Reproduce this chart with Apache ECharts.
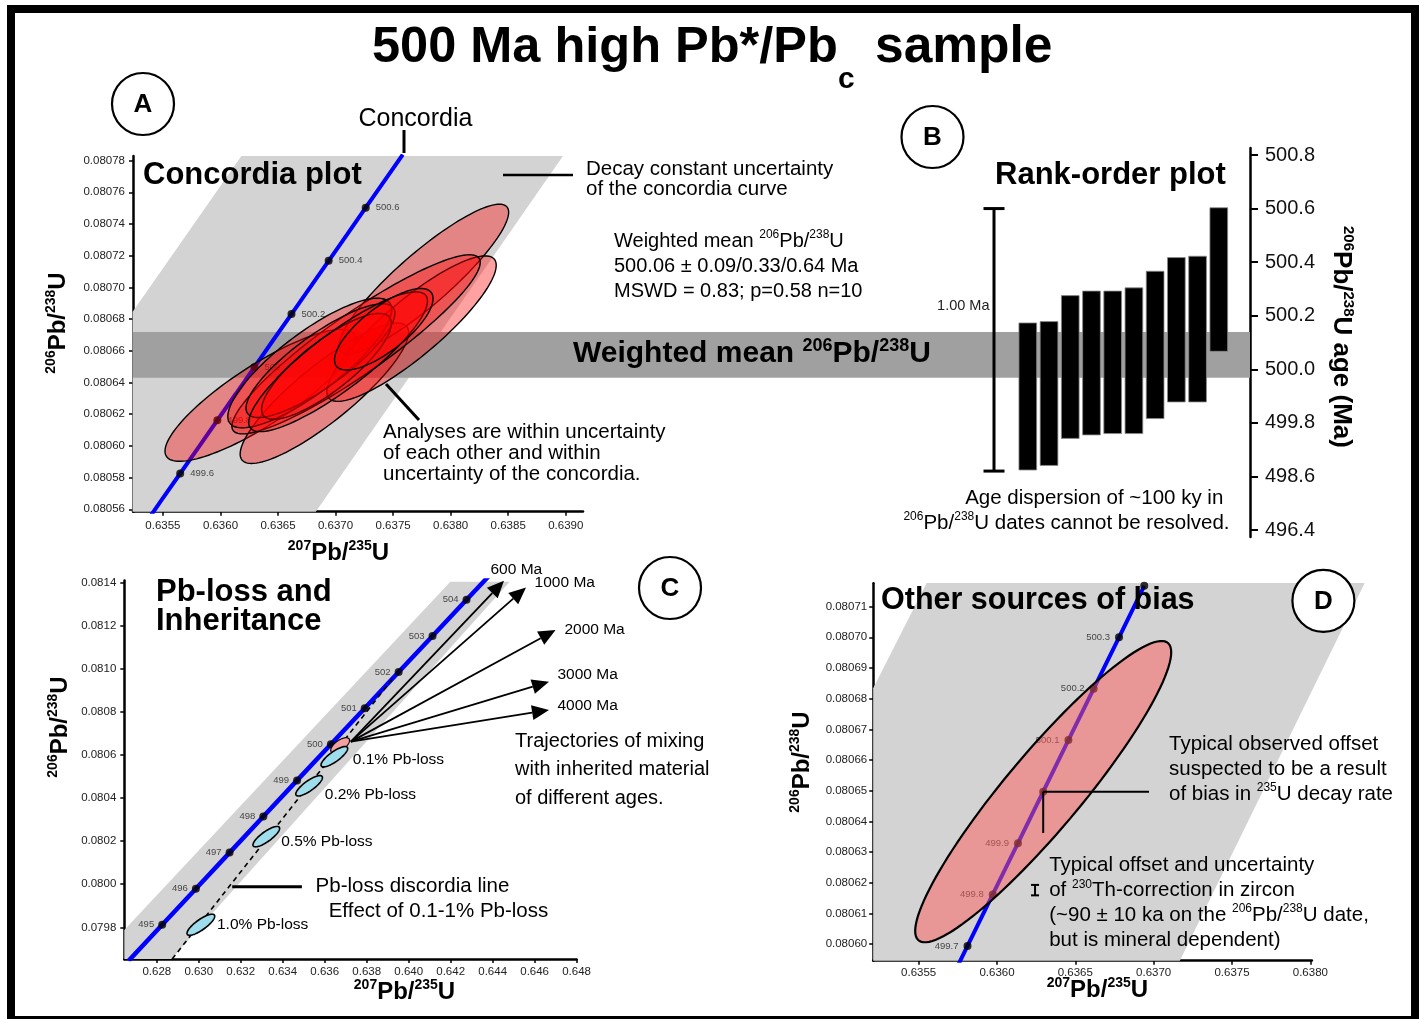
<!DOCTYPE html>
<html><head><meta charset="utf-8">
<script src="https://cdn.jsdelivr.net/npm/echarts@6/dist/echarts.min.js"></script>
<style>html,body{margin:0;padding:0;background:#fff}#c{width:1419px;height:1019px}</style>
</head><body><div id="c"></div>
<script>
const FF = "'Liberation Sans', Arial, Helvetica, sans-serif";

// ---------- Concordia curve (fine, panels A and D) ----------
const concAges = [499.4,499.5,499.6,499.7,499.8,499.9,500.0,500.1,500.2,500.3,500.4,500.5,500.6,500.7,500.8];
const concX = [0.635328,0.635489,0.635650,0.635812,0.635973,0.636134,0.636295,0.636456,0.636617,0.636779,0.636940,0.637101,0.637262,0.637423,0.637584];
const concY = [0.0805491,0.0805659,0.0805826,0.0805994,0.0806162,0.0806329,0.0806497,0.0806665,0.0806832,0.0807000,0.0807168,0.0807335,0.0807503,0.0807670,0.0807838];
// ---------- Concordia curve (coarse, panel C) ----------
const concAgesC = [494,495,496,497,498,499,500,501,502,503,504,505];
const concXC = [0.626655,0.628257,0.629862,0.631468,0.633075,0.634684,0.636295,0.637907,0.639522,0.641137,0.642755,0.644373];
const concYC = [0.0796444,0.0798118,0.0799793,0.0801468,0.0803144,0.0804821,0.0806497,0.0808173,0.0809850,0.0811527,0.0813204,0.0814881];
const dotAgesA = [499.6,499.8,500.0,500.2,500.4,500.6];
const dotAgesC = [495,496,497,498,499,500,501,502,503,504];
const dotAgesD = [499.7,499.8,499.9,500.0,500.1,500.2,500.3,500.4];
const labelAgesD = [499.7,499.8,499.9,500.1,500.2,500.3];

// ---------- Decay-constant uncertainty envelopes (polygon vertices) ----------
const bandAX = [0.636182,0.638976,0.636828,0.635237,0.635237];
const bandAY = [0.0807829,0.0807829,0.0805585,0.0805585,0.0806847];
const bandCX = [0.641984,0.644812,0.628695,0.626452,0.626452];
const bandCY = [0.081404,0.081404,0.079653,0.079653,0.0797875];
const bandDX = [0.635551,0.638347,0.637167,0.635210,0.635210];
const bandDY = [0.0807177,0.0807177,0.0805946,0.0805946,0.0806834];

// ---------- Panel A analyses (error ellipses) ----------
const ellAX   = [0.636347,0.636903,0.637767,0.637660,0.637178,0.636776,0.636869,0.636921,0.637022,0.637419];
const ellAY   = [0.0806319,0.0806332,0.0807053,0.0806740,0.0806641,0.0806523,0.0806538,0.0806502,0.0806531,0.0806736];
const ellASx  = [0.000829,0.000732,0.000737,0.000736,0.001079,0.000712,0.000647,0.000564,0.000777,0.000428];
const ellASy  = [0.0000416,0.0000443,0.0000472,0.0000459,0.0000565,0.0000409,0.0000359,0.0000334,0.0000441,0.0000257];
const ellARho = [0.846,0.865,0.892,0.870,0.914,0.824,0.834,0.814,0.870,0.753];

// ---------- Weighted mean 206Pb/238U ----------
const wmLow = 499.968, wmHigh = 500.139;      // age (Ma)

// ---------- Panel B rank-order ----------
const rankIds  = ['1','2','3','4','5','6','7','8','9','10'];
const rankLow  = [499.624,499.641,499.742,499.755,499.760,499.760,499.816,499.878,499.878,500.067];
const rankHigh = [500.173,500.178,500.275,500.292,500.292,500.304,500.366,500.417,500.422,500.603];
const scaleBarAges = [499.62, 500.6];
const bTickValues = [499.4,499.6,499.8,500.0,500.2,500.4,500.6,500.8];
const bTickLabels = ['496.4','498.6','499.8','500.0','500.2','500.4','500.6','500.8'];

// ---------- Panel C: Pb-loss & inheritance ----------
const pbLossNames = ['0.1%','0.2%','0.5%','1.0%'];
const pbLossX = [0.636460,0.635257,0.633217,0.630100];
const pbLossY = [0.080592,0.080457,0.080221,0.079812];
const pbLossSx = [0.000635,0.000635,0.000635,0.000660];
const pbLossSy = [0.0000473,0.0000473,0.0000473,0.0000490];
const pbLossRho = [0.81,0.81,0.81,0.81];
const sampleC = [0.636734, 0.080645, 0.000448, 0.0000353, 0.64];
const discordiaX = [0.628733, 0.639250];
const discordiaY = [0.079653, 0.080956];
const mixOrigin = [0.637247, 0.080662];
const mixAges = ['600 Ma','1000 Ma','2000 Ma','3000 Ma','4000 Ma'];
const mixTipX = [0.644541,0.645589,0.646999,0.646685,0.646685];
const mixTipY = [0.081409,0.081378,0.081180,0.080940,0.080809];

// ---------- Panel D ----------
const ellD = [0.636295, 0.0806497, 0.000817, 0.0000491, 0.9245];
const thCorr = [0.636243, 0.0806176, 0.0000017];

// ---------- Tick values ----------
const aXTicks = [0.6355,0.6360,0.6365,0.6370,0.6375,0.6380,0.6385,0.6390];
const aYTicks = [0.08056,0.08058,0.08060,0.08062,0.08064,0.08066,0.08068,0.08070,0.08072,0.08074,0.08076,0.08078];
const cXTicks = [0.628,0.630,0.632,0.634,0.636,0.638,0.640,0.642,0.644,0.646,0.648];
const cYTicks = [0.0798,0.0800,0.0802,0.0804,0.0806,0.0808,0.0810,0.0812,0.0814];
const dXTicks = [0.6355,0.6360,0.6365,0.6370,0.6375,0.6380];
const dYTicks = [0.08060,0.08061,0.08062,0.08063,0.08064,0.08065,0.08066,0.08067,0.08068,0.08069,0.08070,0.08071];

// ================= helpers =================
function idxOf(arr, v){ return arr.findIndex(a => Math.abs(a - v) < 1e-6); }

function valAxis(gi, min, max, ticks, dec, margin){
  return {type:'value', gridIndex:gi, min:min, max:max, splitLine:{show:false},
    axisLine:{show:true, onZero:false, lineStyle:{color:'#000', width:2.5}},
    axisTick:{show:true, customValues:ticks, length:4, lineStyle:{color:'#000', width:1.5}},
    axisLabel:{show:true, customValues:ticks, formatter:v => v.toFixed(dec), fontSize:11.5, color:'#222', fontFamily:FF, margin:margin}};
}
function hiddenAxis(gi, type, min, max, data){
  const o = {type:type, gridIndex:gi, show:false, splitLine:{show:false}};
  if (type === 'category') o.data = data; else { o.min = min; o.max = max; }
  return o;
}
function polygonSeries(ai, xs, ys, color, z){
  return {type:'custom', xAxisIndex:ai, yAxisIndex:ai, z:z, silent:true,
    data: xs.map((x,i)=>[x, ys[i]]),
    renderItem: function(params, api){
      if (params.dataIndex !== 0) return null;
      const pts = xs.map((x,i)=>api.coord([x, ys[i]]));
      return {type:'polygon', shape:{points:pts}, style:{fill:color}};
    }};
}
function ellipseSeries(ai, rows, fill, stroke, lw, z){
  return {type:'custom', xAxisIndex:ai, yAxisIndex:ai, z:z, silent:true,
    data: rows, encode:{x:0, y:1},
    renderItem: function(params, api){
      const cx=api.value(0), cy=api.value(1), sx=api.value(2), sy=api.value(3), r=api.value(4);
      const q = Math.sqrt(1 - r*r), pts = [];
      for (let k=0; k<120; k++){
        const t = k/120*2*Math.PI;
        pts.push(api.coord([cx + sx*Math.cos(t), cy + sy*(r*Math.cos(t) + q*Math.sin(t))]));
      }
      return {type:'polygon', shape:{points:pts}, style:{fill:fill, stroke:stroke, lineWidth:lw}};
    }};
}
function concLine(ai, xs, ys, w){
  return {type:'line', xAxisIndex:ai, yAxisIndex:ai, z:3, silent:true, symbol:'none', clip:true,
    data: xs.map((x,i)=>[x, ys[i]]), lineStyle:{color:'#0000ff', width:w}};
}
function concDots(ai, ages, tabA, tabX, tabY, labelAges, pos, dist){
  return {type:'scatter', xAxisIndex:ai, yAxisIndex:ai, z:4, silent:true, symbolSize:8,
    itemStyle:{color:'#000'},
    data: ages.map(a => { const i = idxOf(tabA, a); return [tabX[i], tabY[i], a]; }),
    label:{show:true, position:pos, distance:dist, fontSize:9.5, color:'#222', fontFamily:FF,
      formatter: p => (labelAges === null || idxOf(labelAges, p.value[2]) >= 0) ? String(p.value[2]) : ''}};
}

// ================= option =================
const chart = echarts.init(document.getElementById('c'), null, {width:1419, height:1019});

const ellARows = ellAX.map((x,i)=>[x, ellAY[i], ellASx[i], ellASy[i], ellARho[i]]);
const pbRows = pbLossX.map((x,i)=>[x, pbLossY[i], pbLossSx[i], pbLossSy[i], pbLossRho[i]]);

const option = {
  animation:false,
  backgroundColor:'#fff',
  grid:[
    {left:133, top:156, width:450, height:355.7},          // A
    {left:1017.2, top:148, width:212.2, height:389},       // B
    {left:133, top:148, width:1117, height:389},           // band helper
    {left:124.3, top:580.5, width:452.3, height:378.5},    // C
    {left:873.2, top:583.3, width:438.7, height:377.4}     // D
  ],
  xAxis:[
    valAxis(0, 0.63524, 0.63915, aXTicks, 4, 8),
    hiddenAxis(1, 'category', 0, 0, rankIds),
    hiddenAxis(2, 'value', 0, 1),
    valAxis(3, 0.626452, 0.648, cXTicks, 3, 7),
    valAxis(4, 0.63521, 0.63801, dXTicks, 4, 6)
  ],
  yAxis:[
    valAxis(0, 0.0805585, 0.0807829, aYTicks, 5, 8),
    {type:'value', gridIndex:1, position:'right', offset:20.6, min:499.3739, max:500.8261, splitLine:{show:false},
      axisLine:{show:true, lineStyle:{color:'#000', width:2.5}},
      axisTick:{show:true, customValues:bTickValues, length:8, lineStyle:{color:'#000', width:2}},
      axisLabel:{show:true, customValues:bTickValues, fontSize:20, color:'#111', fontFamily:FF, margin:15,
        formatter: v => { const i = idxOf(bTickValues, v); return i >= 0 ? bTickLabels[i] : ''; }}},
    hiddenAxis(2, 'value', 499.3739, 500.8261),
    valAxis(3, 0.079653, 0.08141, cYTicks, 4, 8),
    valAxis(4, 0.0805946, 0.0807176, dYTicks, 5, 6)
  ],
  series:[
    polygonSeries(0, bandAX, bandAY, '#d3d3d3', 1),
    polygonSeries(3, bandCX, bandCY, '#d3d3d3', 1),
    polygonSeries(4, bandDX, bandDY, '#d3d3d3', 1),
    {type:'custom', xAxisIndex:2, yAxisIndex:2, z:2, silent:true, data:[[0, wmLow, 1, wmHigh]],
      renderItem: function(params, api){
        const p0 = api.coord([api.value(0), api.value(3)]), p1 = api.coord([api.value(2), api.value(1)]);
        return {type:'rect', shape:{x:p0[0], y:p0[1], width:p1[0]-p0[0], height:p1[1]-p0[1]}, style:{fill:'#a0a0a0'}};
      }},
    concLine(0, concX, concY, 4),
    concDots(0, dotAgesA, concAges, concX, concY, null, 'right', 6),
    concLine(3, concXC, concYC, 4.5),
    concDots(3, dotAgesC, concAgesC, concXC, concYC, null, 'left', 4),
    concLine(4, concX.slice(2, 11), concY.slice(2, 11), 4),
    concDots(4, dotAgesD, concAges, concX, concY, labelAgesD, 'left', 5),
    ellipseSeries(0, ellARows, 'rgba(255,0,0,0.37)', '#000', 1.4, 6),
    {type:'custom', xAxisIndex:1, yAxisIndex:1, z:3, silent:true,
      data: rankIds.map((c,i)=>[i, rankLow[i], rankHigh[i]]),
      renderItem: function(params, api){
        const lo = api.coord([api.value(0), api.value(1)]), hi = api.coord([api.value(0), api.value(2)]);
        const w = api.size([1,0])[0]*0.835;
        return {type:'rect', shape:{x:lo[0]-w/2, y:hi[1], width:w, height:lo[1]-hi[1]}, style:{fill:'#000', stroke:'#8a8a8a', lineWidth:0.8}};
      }},
    {type:'line', xAxisIndex:3, yAxisIndex:3, z:4, silent:true, symbol:'none',
      data: discordiaX.map((x,i)=>[x, discordiaY[i]]), lineStyle:{color:'#000', width:1.6, type:[5,4]}},
    ellipseSeries(3, [sampleC], '#f4a0a0', '#000', 1.2, 6),
    ellipseSeries(3, pbRows, '#9fdcec', '#000', 1.6, 6),
    {type:'custom', xAxisIndex:3, yAxisIndex:3, z:7, silent:true,
      data: mixTipX.map((x,i)=>[mixOrigin[0], mixOrigin[1], x, mixTipY[i]]),
      renderItem: function(params, api){
        const p0 = api.coord([api.value(0), api.value(1)]), p1 = api.coord([api.value(2), api.value(3)]);
        const dx = p1[0]-p0[0], dy = p1[1]-p0[1], L = Math.hypot(dx, dy), ux = dx/L, uy = dy/L;
        const hl = 17, hw = 7.5, bx = p1[0]-ux*hl, by = p1[1]-uy*hl;
        return {type:'group', children:[
          {type:'line', shape:{x1:p0[0], y1:p0[1], x2:bx, y2:by}, style:{stroke:'#000', lineWidth:1.8}},
          {type:'polygon', shape:{points:[p1, [bx-uy*hw, by+ux*hw], [bx+uy*hw, by-ux*hw]]}, style:{fill:'#000'}}
        ]};
      }},
    ellipseSeries(4, [ellD], 'rgba(255,90,90,0.5)', '#000', 2.2, 6),
    {type:'custom', xAxisIndex:4, yAxisIndex:4, z:7, silent:true, data:[thCorr],
      renderItem: function(params, api){
        const c = api.value(0), m = api.value(1), h = api.value(2);
        const a = api.coord([c, m + h]), b = api.coord([c, m - h]);
        return {type:'group', children:[
          {type:'line', shape:{x1:a[0], y1:a[1], x2:b[0], y2:b[1]}, style:{stroke:'#000', lineWidth:2}},
          {type:'line', shape:{x1:a[0]-4, y1:a[1], x2:a[0]+4, y2:a[1]}, style:{stroke:'#000', lineWidth:2}},
          {type:'line', shape:{x1:b[0]-4, y1:b[1], x2:b[0]+4, y2:b[1]}, style:{stroke:'#000', lineWidth:2}}
        ]};
      }}
  ]
};
chart.setOption(option);

// ================= annotations =================
function TX(text, x, y, size, o){
  return {type:'text', x:x, y:y, z:100, silent:true,
    style:Object.assign({text:text, fontSize:size, fontFamily:FF, fill:'#000', align:'left', verticalAlign:'middle'}, o || {})};
}
function LN(x1, y1, x2, y2, w){
  return {type:'line', z:100, silent:true, shape:{x1:x1, y1:y1, x2:x2, y2:y2}, style:{stroke:'#000', lineWidth:w}};
}
function CIRC(cx, cy, letter){
  return [{type:'circle', z:100, silent:true, shape:{cx:cx, cy:cy, r:31}, style:{fill:'#fff', stroke:'#000', lineWidth:2.2}},
          TX(letter, cx, cy+1, 26, {fontWeight:'bold', align:'center'})];
}
function SUP(size, bold){ return {s:{fontSize:size, fontFamily:FF, fontWeight:bold?'bold':'normal', verticalAlign:'top', lineHeight:size}}; }

const g = [];
g.push({type:'rect', z:100, silent:true, shape:{x:11, y:9, width:1404, height:1011}, style:{fill:'none', stroke:'#000', lineWidth:8}});
g.push(TX('500 Ma high Pb*/Pb', 372, 48, 50.5, {fontWeight:'bold'}));
g.push(TX('c', 838, 80, 30, {fontWeight:'bold'}));
g.push(TX('sample', 875, 48, 51.5, {fontWeight:'bold'}));
g.push(...CIRC(143, 104, 'A'), ...CIRC(932.5, 137, 'B'), ...CIRC(670, 588, 'C'), ...CIRC(1323.4, 600.8, 'D'));

// panel A
g.push(TX('Concordia plot', 143, 175, 31, {fontWeight:'bold'}));
g.push(TX('Concordia', 358.5, 119, 25));
g.push(LN(404, 130, 404, 153, 3));
g.push(TX('Decay constant uncertainty', 586, 169, 20.5));
g.push(TX('of the concordia curve', 586, 189.5, 20.5));
g.push(LN(503, 175, 573, 175, 2.5));
g.push(TX('Weighted mean {s|206}Pb/{s|238}U', 614, 241, 20, {lineHeight:24, rich:SUP(12)}));
g.push(TX('500.06 ± 0.09/0.33/0.64 Ma', 614, 266.7, 20));
g.push(TX('MSWD = 0.83; p=0.58 n=10', 614, 291.7, 20));
g.push(TX('Weighted mean {s|206}Pb/{s|238}U', 573, 354, 30, {fontWeight:'bold', lineHeight:34, rich:SUP(18, true)}));
g.push(TX('Analyses are within uncertainty', 383, 432, 20.5));
g.push(TX('of each other and within', 383, 453, 20.5));
g.push(TX('uncertainty of the concordia.', 383, 474, 20.5));
g.push(LN(386, 384, 419, 420, 3));
g.push(TX('{s|207}Pb/{s|235}U', 338.5, 553, 24, {fontWeight:'bold', align:'center', lineHeight:28, rich:SUP(14, true)}));
g.push(Object.assign(TX('{s|206}Pb/{s|238}U', 58, 323, 24, {fontWeight:'bold', align:'center', lineHeight:28, rich:SUP(14, true)}), {rotation:Math.PI/2}));

// panel B
g.push(TX('Rank-order plot', 995, 175, 31, {fontWeight:'bold'}));
g.push(TX('Age dispersion of ~100 ky in', 1223.3, 498, 20.5, {align:'right'}));
g.push(TX('{s|206}Pb/{s|238}U dates cannot be resolved.', 1229.5, 523, 20.5, {align:'right', lineHeight:24, rich:SUP(12)}));
g.push(TX('1.00 Ma', 989.5, 306, 14.5, {align:'right', fill:'#222'}));
const sbTop = chart.convertToPixel({yAxisIndex:1}, scaleBarAges[1]);
const sbBot = chart.convertToPixel({yAxisIndex:1}, scaleBarAges[0]);
g.push(LN(994, sbTop, 994, sbBot, 3), LN(983.5, sbTop, 1004.5, sbTop, 3), LN(983.5, sbBot, 1004.5, sbBot, 3));
g.push(Object.assign(TX('{s|206}Pb/{s|238}U age (Ma)', 1341, 337, 26, {fontWeight:'bold', align:'center', lineHeight:30, rich:SUP(15, true)}), {rotation:-Math.PI/2}));

// panel C
g.push(TX('Pb-loss and', 156, 592, 31, {fontWeight:'bold'}));
g.push(TX('Inheritance', 156, 621, 31, {fontWeight:'bold'}));
const mixLabelPos = [[490.5,570],[534.6,583],[564.4,630],[557.5,675],[557.5,706]];
mixAges.forEach((t,i)=>g.push(TX(t, mixLabelPos[i][0], mixLabelPos[i][1], 15.5)));
const pbLabelPos = [[352.8,760],[324.8,795],[281.2,841.7],[217,925]];
pbLossNames.forEach((t,i)=>g.push(TX(t + ' Pb-loss', pbLabelPos[i][0], pbLabelPos[i][1], 15.5)));
g.push(TX('Pb-loss discordia line', 315.6, 886.7, 20.5));
g.push(TX('Effect of 0.1-1% Pb-loss', 328.7, 911.7, 20.5));
g.push(LN(232.2, 886.7, 301.9, 886.7, 3));
g.push(TX('Trajectories of mixing', 515, 741, 20));
g.push(TX('with inherited material', 515, 769.5, 20));
g.push(TX('of different ages.', 515, 798, 20));
g.push(TX('{s|207}Pb/{s|235}U', 404.5, 992, 24, {fontWeight:'bold', align:'center', lineHeight:28, rich:SUP(14, true)}));
g.push(Object.assign(TX('{s|206}Pb/{s|238}U', 60, 727, 24, {fontWeight:'bold', align:'center', lineHeight:28, rich:SUP(14, true)}), {rotation:Math.PI/2}));

// panel D
g.push(TX('Other sources of bias', 881, 601, 30.5, {fontWeight:'bold'}));
g.push(TX('Typical observed offset', 1169, 744, 20.5));
g.push(TX('suspected to be a result', 1169, 769, 20.5));
g.push(TX('of bias in {s|235}U decay rate', 1169, 794, 20.5, {lineHeight:24, rich:SUP(12)}));
const cD = chart.convertToPixel({xAxisIndex:4, yAxisIndex:4}, [ellD[0], ellD[1]]);
g.push(LN(cD[0], cD[1], 1149, cD[1], 2), LN(cD[0], cD[1], cD[0], 833, 2));
g.push(TX('Typical offset and uncertainty', 1049.2, 865, 20.5));
g.push(TX('of {s|230}Th-correction in zircon', 1049.2, 890.7, 20.5, {lineHeight:24, rich:SUP(12)}));
g.push(TX('(~90 ± 10 ka on the {s|206}Pb/{s|238}U date,', 1049.2, 915, 20.5, {lineHeight:24, rich:SUP(12)}));
g.push(TX('but is mineral dependent)', 1049.2, 940, 20.5));
g.push(TX('{s|207}Pb/{s|235}U', 1097.4, 990, 24, {fontWeight:'bold', align:'center', lineHeight:28, rich:SUP(14, true)}));
g.push(Object.assign(TX('{s|206}Pb/{s|238}U', 802, 762, 24, {fontWeight:'bold', align:'center', lineHeight:28, rich:SUP(14, true)}), {rotation:Math.PI/2}));

chart.setOption({graphic:{elements:g}});
</script></body></html>
